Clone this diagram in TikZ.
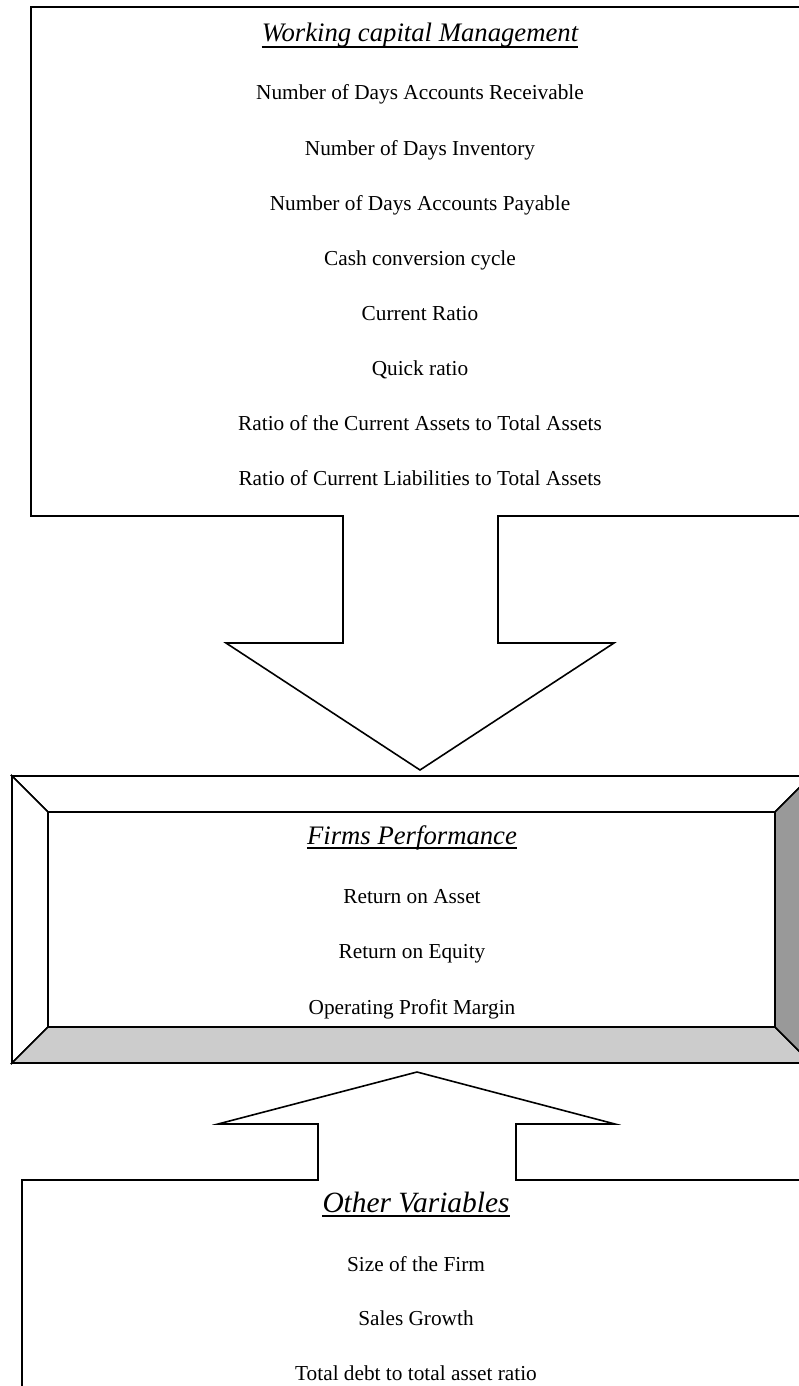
\documentclass[tikz,border=0pt]{standalone}
\usepackage{fontspec}
\setmainfont{Liberation Serif}
\begin{document}
\begin{tikzpicture}[x=1pt,y=-1pt,line join=miter,
  outline/.style={draw=black,line width=1.6pt},
  body/.style={anchor=base,inner sep=0pt,font=\fontsize{21.3pt}{25pt}\selectfont},
  head/.style={anchor=base,inner sep=0pt,font=\fontsize{26.7pt}{30pt}\selectfont\itshape},
  bighead/.style={anchor=base,inner sep=0pt,font=\fontsize{29.4pt}{33pt}\selectfont\itshape},
  uline/.style={draw=black,line width=1.3pt}]
\useasboundingbox (0,0) rectangle (799,1386);
\clip (0,0) rectangle (799,1386);

% ---- top box with downward arrow ----
\draw[outline] (830,7) -- (31,7) -- (31,516) -- (343,516) -- (343,643) -- (226,643)
  -- (420,770) -- (614,643) -- (498,643) -- (498,516) -- (830,516);

\node[head] (wcm) at (420,42) {Working capital Management};
\draw[uline] ([yshift=-5pt]wcm.base west) -- ([yshift=-5pt]wcm.base east);
\node[body] (w1) at (420,100) {Number of Days Accounts Receivable};
\node[body] (w2) at (420,155.1) {Number of Days Inventory};
\node[body] (w3) at (420,210.2) {Number of Days Accounts Payable};
\node[body] (w4) at (420,265.3) {Cash conversion cycle};
\node[body] (w5) at (420,320.4) {Current Ratio};
\node[body] (w6) at (420,375.5) {Quick ratio};
\node[body] (w7) at (420,430.6) {Ratio of the Current Assets to Total Assets};
\node[body] (w8) at (420,485.7) {Ratio of Current Liabilities to Total Assets};

% ---- bevel box ----
\draw[outline,fill=white] (12,776) -- (811,776) -- (775,812) -- (48,812) -- cycle;
\draw[outline,fill=white] (12,776) -- (48,812) -- (48,1027) -- (12,1063) -- cycle;
\draw[outline,fill=black!20] (12,1063) -- (48,1027) -- (775,1027) -- (811,1063) -- cycle;
\draw[outline,fill=black!40] (811,776) -- (775,812) -- (775,1027) -- (811,1063) -- cycle;
\draw[outline,fill=white] (48,812) rectangle (775,1027);

\node[head] (fp) at (412,844) {Firms Performance};
\draw[uline] ([yshift=-4pt]fp.base west) -- ([yshift=-4pt]fp.base east);
\node[body] (f1) at (412,903) {Return on Asset};
\node[body] (f2) at (412,958.5) {Return on Equity};
\node[body] (f3) at (412,1014) {Operating Profit Margin};

% ---- bottom box with upward arrow ----
\draw[outline] (22,1400) -- (22,1180) -- (318,1180) -- (318,1124) -- (218,1124)
  -- (417,1072) -- (615,1124) -- (516,1124) -- (516,1180) -- (830,1180);

\node[bighead] (ov) at (416,1212) {Other Variables};
\draw[uline] ([yshift=-4pt]ov.base west) -- ([yshift=-4pt]ov.base east);
\node[body] (o1) at (416,1271) {Size of the Firm};
\node[body] (o2) at (416,1325.5) {Sales Growth};
\node[body] (o3) at (416,1380.5) {Total debt to total asset ratio};
\end{tikzpicture}
\end{document}
